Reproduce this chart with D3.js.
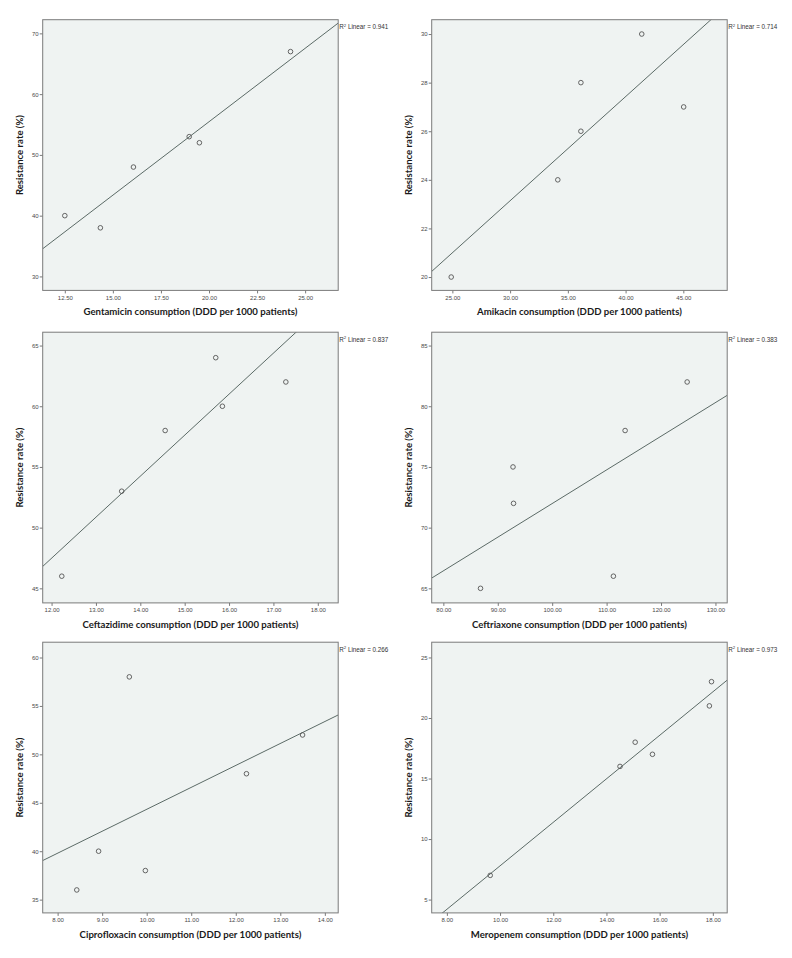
<!DOCTYPE html>
<html>
<head>
<meta charset="utf-8">
<script src="https://cdn.jsdelivr.net/npm/d3@7"></script>
<style>
  html, body { margin: 0; padding: 0; background: #ffffff; }
  svg { display: block; }
</style>
</head>
<body>
<svg id="chart" width="792" height="958"></svg>
<script>
// ---- data ----
const drugs = ["Gentamicin", "Amikacin", "Ceftazidime", "Ceftriaxone", "Ciprofloxacin", "Meropenem"];
const consumption = [
  [12.50, 14.35, 16.07, 18.97, 19.50, 24.24],
  [24.90, 34.13, 36.13, 36.13, 41.40, 45.03],
  [12.23, 13.58, 14.56, 15.70, 15.85, 17.28],
  [86.83, 92.80, 92.90, 111.25, 113.40, 124.80],
  [8.43, 8.92, 9.61, 9.97, 12.24, 13.50],
  [9.63, 14.51, 15.08, 15.73, 17.87, 17.95]
];
const resistance = [
  [40, 38, 48, 53, 52, 67],
  [20, 24, 28, 26, 30, 27],
  [46, 53, 58, 64, 60, 62],
  [65, 75, 72, 66, 78, 82],
  [36, 40, 58, 38, 48, 52],
  [7, 16, 18, 17, 21, 23]
];
const r2Labels = ["0.941", "0.714", "0.837", "0.383", "0.266", "0.973"];
const xDomains = [[11.35, 26.72], [23.21, 48.8], [11.8, 18.46], [77.86, 132.16], [7.665, 14.3], [7.43, 18.54]];
const yDomains = [[27.7, 72.25], [19.45, 30.59], [43.8, 66.1], [63.8, 86.1], [33.63, 61.58], [3.9, 26.26]];
const xTicks = [
  [12.5, 15, 17.5, 20, 22.5, 25],
  [25, 30, 35, 40, 45],
  [12, 13, 14, 15, 16, 17, 18],
  [80, 90, 100, 110, 120, 130],
  [8, 9, 10, 11, 12, 13, 14],
  [8, 10, 12, 14, 16, 18]
];
const yTicks = [
  [30, 40, 50, 60, 70],
  [20, 22, 24, 26, 28, 30],
  [45, 50, 55, 60, 65],
  [65, 70, 75, 80, 85],
  [35, 40, 45, 50, 55, 60],
  [5, 10, 15, 20, 25]
];
const yAxisTitle = "Resistance rate (%)";

// ---- layout ----
const colLeft = [42.7, 431.7];
const rowTop = [19.7, 332.2, 642.2];
const plotW = 295.5, plotH = 270.7;

const svg = d3.select("#chart");
const fmtX = d3.format(".2f");
const fmtY = d3.format("d");

drugs.forEach((drug, i) => {
  const col = i % 2, row = Math.floor(i / 2);
  const g = svg.append("g").attr("transform", `translate(${colLeft[col]},${rowTop[row]})`);
  const x = d3.scaleLinear().domain(xDomains[i]).range([0, plotW]);
  const y = d3.scaleLinear().domain(yDomains[i]).range([plotH, 0]);

  // plot background
  g.append("rect").attr("width", plotW).attr("height", plotH)
    .attr("fill", "#eff3f2");

  const clipId = "clip" + i;
  g.append("clipPath").attr("id", clipId)
    .append("rect").attr("width", plotW).attr("height", plotH);

  // axes
  const ax = g.append("g").attr("transform", `translate(0,${plotH})`)
    .call(d3.axisBottom(x).tickValues(xTicks[i]).tickFormat(fmtX).tickSize(3).tickPadding(2));
  const ay = g.append("g")
    .call(d3.axisLeft(y).tickValues(yTicks[i]).tickFormat(fmtY).tickSize(3).tickPadding(1));
  [ax, ay].forEach(a => {
    a.select(".domain").remove();
    a.selectAll(".tick line").attr("stroke", "#6a6a6a").attr("stroke-width", 0.9);
    a.selectAll(".tick text").attr("fill", "#4a4a4a")
      .style("font-family", "'Liberation Sans', Arial, sans-serif").style("font-size", "6px");
  });

  // regression line (least squares fit from the data)
  const xs = consumption[i], ys = resistance[i];
  const mx = d3.mean(xs), my = d3.mean(ys);
  const sxy = d3.sum(xs, (v, k) => (v - mx) * (ys[k] - my));
  const sxx = d3.sum(xs, v => (v - mx) * (v - mx));
  const b = sxy / sxx, a0 = my - b * mx;
  const [x0, x1] = xDomains[i];
  g.append("line")
    .attr("clip-path", `url(#${clipId})`)
    .attr("x1", x(x0)).attr("y1", y(a0 + b * x0))
    .attr("x2", x(x1)).attr("y2", y(a0 + b * x1))
    .attr("stroke", "#5b6a66").attr("stroke-width", 1);

  // points
  g.selectAll("circle.pt").data(xs.map((v, k) => [v, ys[k]])).enter()
    .append("circle").attr("class", "pt")
    .attr("cx", d => x(d[0])).attr("cy", d => y(d[1]))
    .attr("r", 2.3).attr("fill", "none").attr("stroke", "#555").attr("stroke-width", 0.9);

  // frame
  g.append("rect").attr("width", plotW).attr("height", plotH)
    .attr("fill", "none").attr("stroke", "#7a7a7a").attr("stroke-width", 1);

  // R² label
  const r2 = g.append("text").attr("x", plotW + 1).attr("y", 9.5)
    .attr("fill", "#333")
    .style("font-family", "'Liberation Sans', Arial, sans-serif").style("font-size", "6.3px");
  r2.append("tspan").text("R");
  r2.append("tspan").attr("dy", -2.2).style("font-size", "4.3px").text("2");
  r2.append("tspan").attr("dy", 2.2).text(" Linear = " + r2Labels[i]);

  // axis titles
  g.append("text")
    .attr("x", plotW / 2).attr("y", plotH + 25)
    .attr("text-anchor", "middle").attr("fill", "#1a1a1a")
    .style("font-family", "Lato, 'Open Sans', sans-serif").style("font-weight", "bold").style("font-size", "9.6px")
    .text(drug + " consumption (DDD per 1000 patients)");
  g.append("text")
    .attr("transform", `translate(-20,${plotH / 2}) rotate(-90)`)
    .attr("text-anchor", "middle").attr("fill", "#1a1a1a")
    .style("font-family", "Lato, 'Open Sans', sans-serif").style("font-weight", "bold").style("font-size", "9.6px")
    .text(yAxisTitle);
});
</script>
</body>
</html>
